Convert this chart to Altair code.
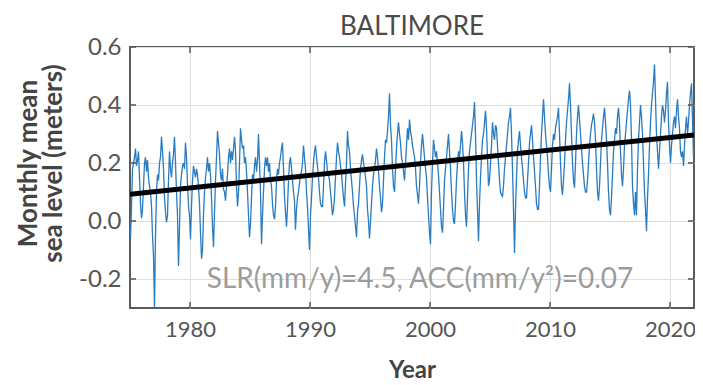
import altair as alt
import pandas as pd

# ---------------- data ----------------
start_year = 1975

# Monthly mean sea level (m), Jan 1975 .. Dec 2021, one row per year
monthly_sea_level = [
    -0.06, 0.05, 0.18, 0.20, 0.22, 0.25, 0.19, 0.21, 0.24, 0.15, 0.06, 0.01,    # 1975
    0.04, 0.12, 0.20, 0.22, 0.17, 0.21, 0.15, 0.12, 0.10, 0.05, -0.05, -0.12,   # 1976
    -0.30, -0.05, 0.10, 0.16, 0.14, 0.20, 0.22, 0.29, 0.24, 0.18, 0.08, 0.03,   # 1977
    -0.005, 0.02, 0.14, 0.24, 0.18, 0.15, 0.20, 0.23, 0.29, 0.20, 0.10, 0.02,  # 1978
    -0.155, -0.02, 0.12, 0.16, 0.19, 0.20, 0.18, 0.27, 0.22, 0.13, 0.05, 0.02, # 1979
    -0.063, 0.05, 0.14, 0.19, 0.17, 0.15, 0.18, 0.16, 0.12, 0.06, -0.04, -0.13, # 1980
    -0.10, 0.02, 0.10, 0.15, 0.18, 0.22, 0.17, 0.20, 0.16, 0.08, -0.02, -0.09,  # 1981
    0.03, 0.14, 0.22, 0.31, 0.27, 0.23, 0.16, 0.14, 0.18, 0.11, 0.10, 0.07,     # 1982
    0.12, 0.16, 0.22, 0.25, 0.20, 0.24, 0.21, 0.25, 0.29, 0.24, 0.12, 0.05,     # 1983
    0.10, 0.20, 0.32, 0.28, 0.25, 0.26, 0.20, 0.22, 0.17, 0.10, 0.02, -0.056,   # 1984
    -0.01, 0.08, 0.16, 0.14, 0.19, 0.22, 0.17, 0.21, 0.30, 0.20, 0.10, -0.08,   # 1985
    0.02, 0.10, 0.18, 0.22, 0.19, 0.22, 0.17, 0.20, 0.14, 0.12, 0.06, 0.02,     # 1986
    0.006, 0.05, 0.14, 0.18, 0.16, 0.20, 0.22, 0.25, 0.27, 0.18, 0.08, 0.03,    # 1987
    -0.02, 0.05, 0.14, 0.20, 0.22, 0.18, 0.14, 0.10, 0.07, -0.03, 0.04, 0.08,   # 1988
    0.10, 0.13, 0.16, 0.17, 0.20, 0.26, 0.22, 0.18, 0.10, 0.05, -0.03, -0.10,   # 1989
    0.02, 0.08, 0.15, 0.20, 0.24, 0.26, 0.22, 0.19, 0.15, 0.10, 0.06, 0.05,     # 1990
    0.05, 0.12, 0.20, 0.24, 0.21, 0.17, 0.16, 0.14, 0.10, 0.06, 0.02, 0.04,     # 1991
    0.08, 0.15, 0.22, 0.27, 0.24, 0.22, 0.19, 0.16, 0.12, 0.08, 0.05, 0.13,     # 1992
    0.20, 0.31, 0.26, 0.24, 0.18, 0.14, 0.10, 0.05, 0.02, -0.02, -0.056, 0.03,  # 1993
    0.06, 0.12, 0.18, 0.21, 0.23, 0.20, 0.18, 0.15, 0.12, 0.04, 0.00, -0.06,    # 1994
    0.00, 0.06, 0.12, 0.16, 0.18, 0.21, 0.25, 0.22, 0.17, 0.12, 0.08, 0.03,     # 1995
    0.06, 0.14, 0.22, 0.28, 0.27, 0.31, 0.36, 0.44, 0.33, 0.28, 0.18, 0.12,     # 1996
    0.10, 0.18, 0.25, 0.30, 0.34, 0.30, 0.27, 0.22, 0.20, 0.17, 0.14, 0.20,     # 1997
    0.26, 0.32, 0.28, 0.35, 0.31, 0.29, 0.26, 0.24, 0.22, 0.18, 0.12, 0.09,     # 1998
    0.06, 0.12, 0.20, 0.26, 0.30, 0.26, 0.22, 0.18, 0.15, 0.08, 0.02, -0.04,    # 1999
    -0.08, 0.10, 0.20, 0.28, 0.25, 0.22, 0.24, 0.20, 0.16, 0.10, 0.04, -0.02,   # 2000
    -0.04, 0.04, 0.14, 0.18, 0.22, 0.26, 0.30, 0.24, 0.18, 0.10, 0.04, 0.00,    # 2001
    -0.01, 0.06, 0.14, 0.20, 0.24, 0.22, 0.26, 0.31, 0.27, 0.20, 0.10, 0.02,    # 2002
    -0.02, 0.08, 0.18, 0.24, 0.27, 0.30, 0.33, 0.36, 0.41, 0.30, 0.14, 0.04,    # 2003
    -0.07, 0.06, 0.15, 0.22, 0.28, 0.30, 0.34, 0.38, 0.32, 0.22, 0.12, 0.14,    # 2004
    0.20, 0.26, 0.34, 0.30, 0.28, 0.33, 0.32, 0.26, 0.20, 0.14, 0.10, 0.09,     # 2005
    0.085, 0.12, 0.18, 0.22, 0.26, 0.30, 0.34, 0.36, 0.39, 0.30, 0.18, 0.04,    # 2006
    -0.11, 0.04, 0.15, 0.24, 0.28, 0.31, 0.26, 0.22, 0.18, 0.14, 0.10, 0.08,    # 2007
    0.08, 0.14, 0.20, 0.27, 0.30, 0.33, 0.28, 0.22, 0.17, 0.12, 0.06, 0.04,     # 2008
    0.04, 0.12, 0.22, 0.30, 0.36, 0.42, 0.36, 0.30, 0.26, 0.22, 0.16, 0.12,     # 2009
    0.10, 0.18, 0.26, 0.30, 0.28, 0.32, 0.34, 0.36, 0.39, 0.30, 0.20, 0.12,     # 2010
    0.09, 0.14, 0.20, 0.28, 0.34, 0.38, 0.42, 0.475, 0.40, 0.30, 0.20, 0.14,    # 2011
    0.115, 0.20, 0.30, 0.36, 0.40, 0.35, 0.30, 0.25, 0.20, 0.16, 0.12, 0.10,    # 2012
    0.10, 0.14, 0.20, 0.26, 0.30, 0.33, 0.35, 0.37, 0.34, 0.28, 0.18, 0.10,     # 2013
    0.07, 0.12, 0.20, 0.28, 0.32, 0.36, 0.39, 0.34, 0.28, 0.20, 0.10, 0.04,     # 2014
    0.02, 0.08, 0.16, 0.24, 0.28, 0.32, 0.30, 0.36, 0.39, 0.34, 0.24, 0.16,     # 2015
    0.12, 0.18, 0.26, 0.30, 0.34, 0.38, 0.42, 0.45, 0.40, 0.28, 0.12, 0.06,     # 2016
    0.02, 0.10, 0.02, 0.18, 0.28, 0.34, 0.40, 0.36, 0.30, 0.20, 0.10, 0.04,     # 2017
    -0.035, 0.08, 0.16, 0.26, 0.34, 0.40, 0.44, 0.48, 0.54, 0.42, 0.30, 0.24,   # 2018
    0.18, 0.24, 0.30, 0.36, 0.40, 0.38, 0.34, 0.38, 0.44, 0.48, 0.34, 0.26,     # 2019
    0.20, 0.26, 0.30, 0.34, 0.36, 0.32, 0.38, 0.42, 0.36, 0.32, 0.24, 0.22,     # 2020
    0.24, 0.19, 0.26, 0.32, 0.36, 0.30, 0.34, 0.40, 0.44, 0.475, 0.35, 0.22,    # 2021
]

# Long-term trend line (black), value at the start and the end of the record
trend_years = [1975, 2022]
trend_values = [0.092, 0.297]

x_tick_years = [1980, 1990, 2000, 2010, 2020]
y_tick_values = [-0.2, 0.0, 0.2, 0.4, 0.6]

title_text = "BALTIMORE"
y_title = ["Monthly mean", "sea level (meters)"]
x_title = "Year"
annotation = "SLR(mm/y)=4.5, ACC(mm/y\u00b2)=0.07"

# ---------------- tables ----------------
series = pd.DataFrame({
    "t": [start_year + (i + 0.5) / 12 for i in range(len(monthly_sea_level))],
    "v": monthly_sea_level,
})
trend = pd.DataFrame({"t": trend_years, "v": trend_values})
xticks = pd.DataFrame({"t": x_tick_years})
yticks = pd.DataFrame({"v": y_tick_values})

FONT = "Lato"
W, H = 564, 261

x_scale = alt.Scale(domain=[1975, 2022], nice=False, zero=False)
y_scale = alt.Scale(domain=[-0.3, 0.6], nice=False, zero=False)

x_axis = alt.Axis(
    values=x_tick_years, format="d", title=x_title, grid=True,
    gridColor="#dedede", gridWidth=1, domain=False, ticks=False,
    labelFont=FONT, labelFontSize=22, labelColor="#555555", labelPadding=11,
    titleFont=FONT, titleFontSize=24, titleFontWeight="bold", titleColor="#444444",
    titleBaseline="middle", titleY=62,
)
y_axis = alt.Axis(
    values=y_tick_values, title=y_title, grid=True,
    labelExpr="replace(format(datum.value, '.1f'), '\u2212', '-')",
    gridColor="#dedede", gridWidth=1, domain=False, ticks=False,
    labelFont=FONT, labelFontSize=24, labelColor="#555555", labelPadding=9,
    titleFont=FONT, titleFontSize=26, titleFontWeight="bold", titleColor="#444444",
    titleAngle=270, titleAlign="center", titleBaseline="middle",
    titleX=-102, titleY=116, titleLineHeight=25,
)

X = alt.X("t:Q", scale=x_scale, axis=x_axis)
Y = alt.Y("v:Q", scale=y_scale, axis=y_axis)

line = alt.Chart(series).mark_line(color="#2a7cc0", strokeWidth=1.3, clip=True).encode(x=X, y=Y)

trend_line = alt.Chart(trend).mark_line(color="black", strokeWidth=5, clip=True).encode(x=X, y=Y)

tick_color = "#555555"
bottom_ticks = alt.Chart(xticks).mark_rule(color=tick_color, strokeWidth=1.5).encode(
    x=X, y=alt.value(H), y2=alt.value(H - 6))
top_ticks = alt.Chart(xticks).mark_rule(color=tick_color, strokeWidth=1.5).encode(
    x=X, y=alt.value(0), y2=alt.value(6))
left_ticks = alt.Chart(yticks).mark_rule(color=tick_color, strokeWidth=1.5).encode(
    y=Y, x=alt.value(0), x2=alt.value(6))
right_ticks = alt.Chart(yticks).mark_rule(color=tick_color, strokeWidth=1.5).encode(
    y=Y, x=alt.value(W), x2=alt.value(W - 6))

note = alt.Chart(pd.DataFrame({"label": [annotation]})).mark_text(
    font=FONT, fontSize=28, color="#9c9c9c", align="center", baseline="middle",
).encode(text="label:N", x=alt.value(290), y=alt.value(233))

title_mark = alt.Chart(pd.DataFrame({"label": [title_text]})).mark_text(
    font=FONT, fontSize=26, color="#4a4a4a", align="center", baseline="middle",
).encode(text="label:N", x=alt.value(W / 2), y=alt.value(-20))

chart = alt.layer(
    line, trend_line, bottom_ticks, top_ticks, left_ticks, right_ticks, note, title_mark
).properties(
    width=W, height=H,
    padding={"left": 122, "top": 39, "right": 1, "bottom": 74},
    autosize=alt.AutoSizeParams(type="none"),
).configure_view(stroke="#5a5a5a", strokeWidth=2)

chart.save("out.html", embed_options={"renderer": "svg", "actions": False})
